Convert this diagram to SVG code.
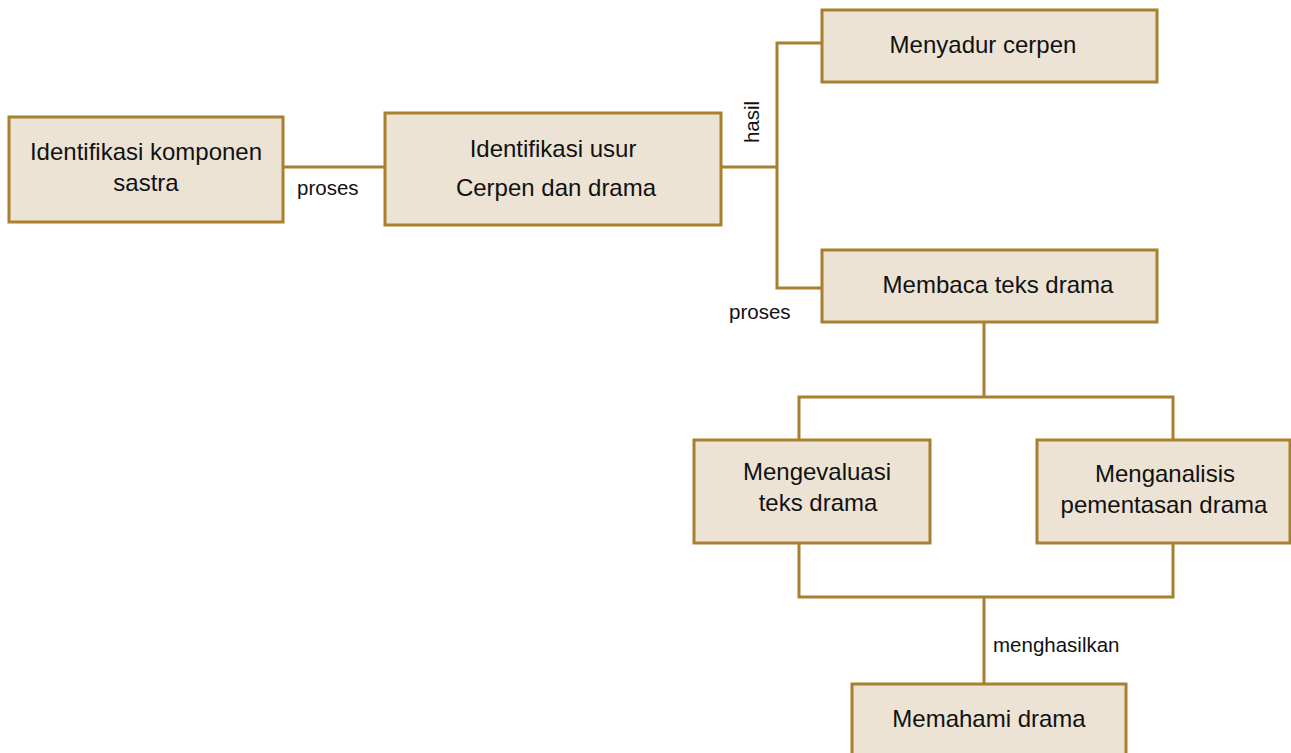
<svg xmlns="http://www.w3.org/2000/svg" width="1291" height="753" viewBox="0 0 1291 753">
<style>
.box{fill:#ECE3D4;stroke:#A8802F;stroke-width:3}
.t{font-family:"Liberation Sans",Arial,sans-serif;font-size:24px;fill:#111;text-anchor:middle}
.l{font-family:"Liberation Sans",Arial,sans-serif;font-size:20.5px;fill:#111}
.c{fill:none;stroke:#A8802F;stroke-width:3}
</style>
<rect width="1291" height="753" fill="#fff"/>
<g id="connectors">
<path class="c" d="M283 167H385"/>
<path class="c" d="M721 167H777"/>
<path class="c" d="M822 43H777V288H822"/>
<path class="c" d="M984 322V397"/>
<path class="c" d="M799 440V397H1173V440"/>
<path class="c" d="M799 543V597H1173V543"/>
<path class="c" d="M984 597V684"/>
<text class="l" x="297" y="195">proses</text>
<text class="l" x="0" y="0" transform="translate(759 122) rotate(-90)" text-anchor="middle">hasil</text>
<text class="l" x="729" y="319">proses</text>
<text class="l" x="993" y="652">menghasilkan</text>
</g>
<g id="n1"><rect class="box" x="9" y="117" width="274" height="105"/><text class="t" x="146" y="160">Identifikasi komponen</text><text class="t" x="146" y="191">sastra</text></g>
<g id="n2"><rect class="box" x="385" y="113" width="336" height="112"/><text class="t" x="553" y="157">Identifikasi usur</text><text class="t" x="556" y="196">Cerpen dan drama</text></g>
<g id="n3"><rect class="box" x="822" y="10" width="335" height="72"/><text class="t" x="983" y="53">Menyadur cerpen</text></g>
<g id="n4"><rect class="box" x="822" y="250" width="335" height="72"/><text class="t" x="998" y="293">Membaca teks drama</text></g>
<g id="n5"><rect class="box" x="694" y="440" width="236" height="103"/><text class="t" x="817" y="480">Mengevaluasi</text><text class="t" x="818" y="511">teks drama</text></g>
<g id="n6"><rect class="box" x="1037" y="440" width="253" height="103"/><text class="t" x="1165" y="482">Menganalisis</text><text class="t" x="1164" y="513">pementasan drama</text></g>
<g id="n7"><rect class="box" x="852" y="684" width="274" height="80"/><text class="t" x="989" y="727">Memahami drama</text></g>
</svg>
